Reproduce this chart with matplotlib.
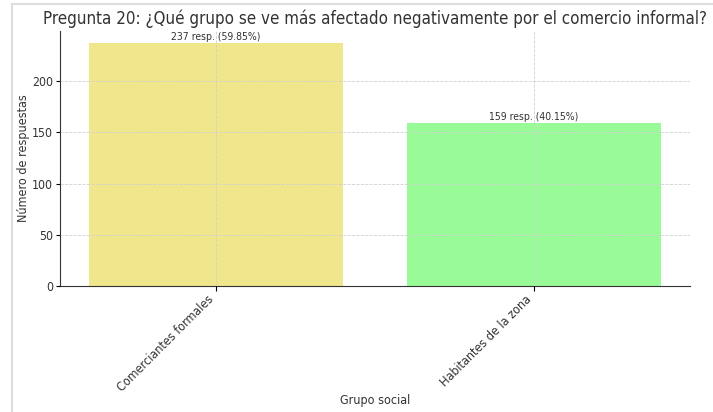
import matplotlib
matplotlib.use("Agg")
import matplotlib.pyplot as plt
from matplotlib.lines import Line2D

plt.rcParams["font.family"] = ["DejaVu Sans"]
plt.rcParams["font.stretch"] = "condensed"

categories = ["Comerciantes formales", "Habitantes de la zona"]
counts = [237, 159]
percents = [59.85, 40.15]
colors = ["#F0E68C", "#98FB98"]

fig = plt.figure(figsize=(7.13, 4.12), dpi=100)
ax = fig.add_axes([60/713, 1-286/412, 630/713, 255/412])

x = list(range(len(categories)))
ax.bar(x, counts, color=colors, width=0.8)
ax.set_ylim(0, 248.85)
ax.set_xticks(x)
ax.set_xticklabels(categories, rotation=45, ha="right", fontsize=9, color="#333333")
ax.tick_params(axis="x", pad=1.5)
ax.tick_params(axis="y", labelsize=8.8, labelcolor="#333333", pad=2, length=3)
ax.grid(True, linestyle="--", linewidth=0.6, color="#d0d0d0")
ax.set_axisbelow(False)
for s in ["top", "right"]:
    ax.spines[s].set_visible(False)
ax.spines["left"].set_color("#333333")
ax.spines["bottom"].set_color("#333333")

for xi, c, p in zip(x, counts, percents):
    ax.text(xi, c + 1, f"{c} resp. ({p:.2f}%)", ha="center", va="bottom", fontsize=7.5, color="#333333")

ax.set_xlabel("Grupo social", fontsize=9, color="#333333")
ax.xaxis.set_label_coords(0.5, -0.425)
ax.set_ylabel("Número de respuestas", fontsize=9, color="#333333")
ax.yaxis.set_label_coords(-0.047, 0.5)
ax.set_title("Pregunta 20: ¿Qué grupo se ve más afectado negativamente por el comercio informal?",
             fontsize=12.2, color="#333333", pad=5)

fig.add_artist(Line2D([12/713, 12/713], [0, 1-4/412], color="#dddddd", lw=1.5))
fig.add_artist(Line2D([12/713, 1], [1-4/412, 1-4/412], color="#dddddd", lw=1.5))

fig.savefig("out.png", dpi=100)
